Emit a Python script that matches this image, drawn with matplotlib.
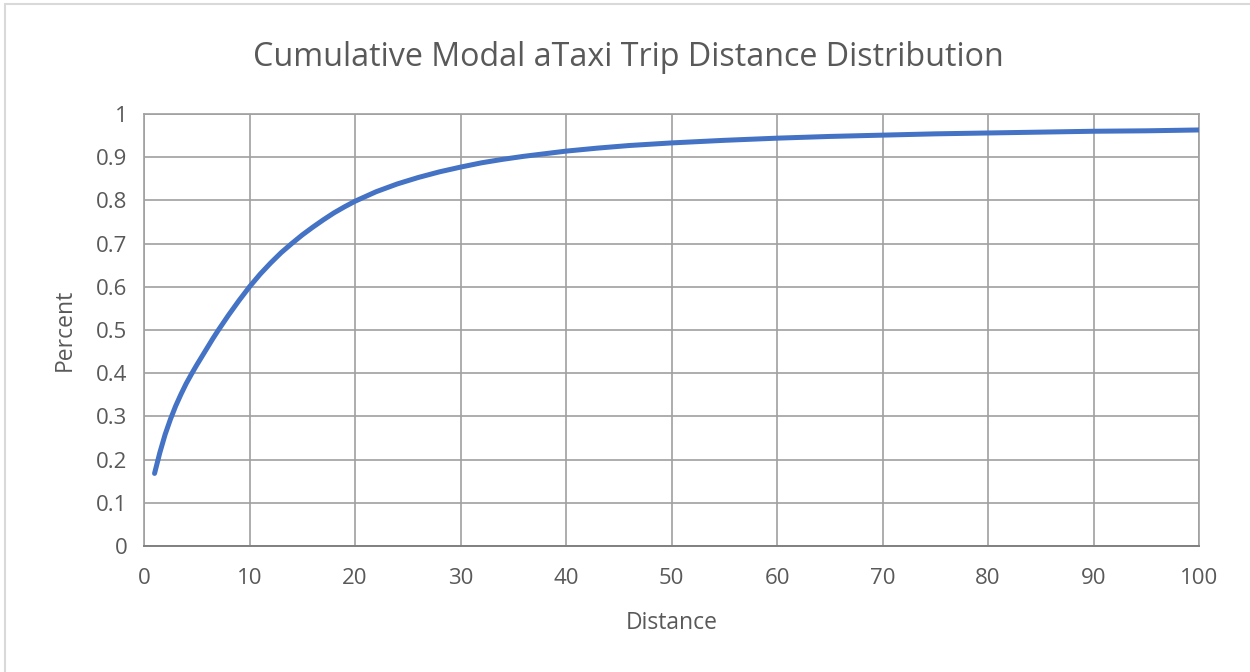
import matplotlib.pyplot as plt
from matplotlib.patches import Rectangle

plt.rcParams['font.family'] = ['Open Sans', 'DejaVu Sans']

distance = [1, 1.5, 2, 2.5, 3, 3.5, 4, 4.5, 5, 5.5, 6, 6.5, 7, 8, 9, 10, 11, 12,
            13, 14, 15, 16, 17, 18, 19, 20, 22, 24, 26, 28, 30, 32, 34, 36, 38,
            40, 43, 46, 50, 55, 60, 65, 70, 75, 80, 85, 90, 95, 100]
percent = [0.168, 0.216, 0.258, 0.293, 0.324, 0.351, 0.376, 0.398, 0.419, 0.439,
           0.459, 0.479, 0.498, 0.534, 0.568, 0.600, 0.629, 0.655, 0.679, 0.700,
           0.720, 0.738, 0.755, 0.771, 0.785, 0.798, 0.820, 0.838, 0.853, 0.866,
           0.877, 0.887, 0.895, 0.902, 0.908, 0.914, 0.921, 0.927, 0.933, 0.939,
           0.944, 0.948, 0.951, 0.954, 0.956, 0.958, 0.960, 0.961, 0.963]

x_ticks = list(range(0, 101, 10))
y_ticks = [i / 10 for i in range(11)]
y_labels = ['0', '0.1', '0.2', '0.3', '0.4', '0.5', '0.6', '0.7', '0.8', '0.9', '1']

text_color = '#595959'

fig = plt.figure(figsize=(12.5, 6.72), dpi=100)
ax = fig.add_axes([0.1152, 0.1875, 0.8440, 0.6429])

ax.plot(distance, percent, color='#4472C4', lw=3.6, solid_capstyle='round',
        solid_joinstyle='round', zorder=3)

ax.set_xlim(0, 100)
ax.set_ylim(0, 1)
ax.set_xticks(x_ticks)
ax.set_yticks(y_ticks)
ax.set_yticklabels(y_labels)
ax.grid(True, color='#a0a0a0', lw=1.2)
ax.set_axisbelow(True)
for side in ['top', 'right', 'left']:
    ax.spines[side].set_color('#a0a0a0')
    ax.spines[side].set_linewidth(1.2)
ax.spines['bottom'].set_color('#808080')
ax.spines['bottom'].set_linewidth(1.4)
ax.tick_params(length=0, labelsize=16, colors=text_color)
ax.tick_params(axis='x', pad=16)
ax.tick_params(axis='y', pad=12)

ax.set_xlabel('Distance', fontsize=16.5, color=text_color, labelpad=16)
ax.set_ylabel('Percent', fontsize=16.5, color=text_color, labelpad=14)
fig.text(0.503, 1 - 57 / 672, 'Cumulative Modal aTaxi Trip Distance Distribution',
         fontsize=23.2, color=text_color, ha='center', va='center')

# light outer frame around the chart
fig.patches.append(Rectangle((0.004, -0.01), 1.0, 1.004,
                             transform=fig.transFigure, fill=False,
                             edgecolor='#d9d9d9', lw=1.5))

fig.savefig('out.png', dpi=100)
